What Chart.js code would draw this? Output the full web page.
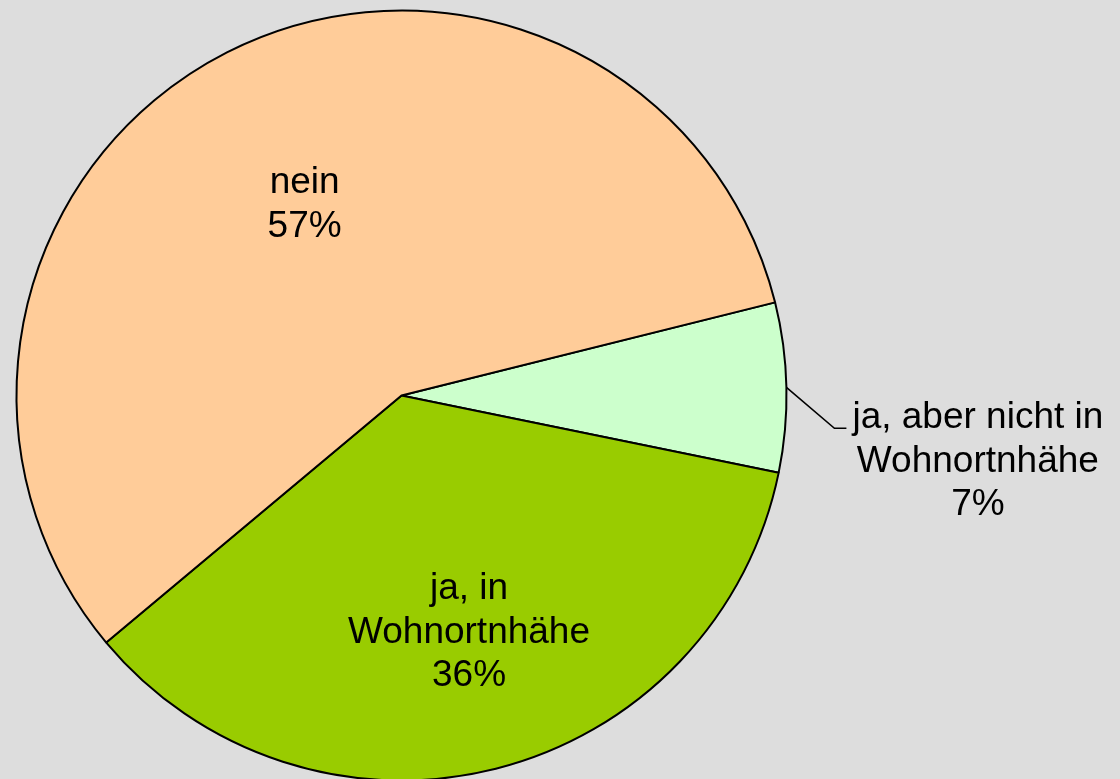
<!DOCTYPE html>
<html>
<head>
<meta charset="utf-8">
<script src="https://cdn.jsdelivr.net/npm/chart.js@4"></script>
<style>
  body { margin: 0; background: #dddddd; }
  #wrap { width: 1120px; height: 779px; position: relative; }
</style>
</head>
<body>
<div id="wrap"><canvas id="chart"></canvas></div>
<script>
// values (percent of answers)
let categories = [['ja, aber nicht in', 'Wohnortnhähe'], ['ja, in', 'Wohnortnhähe'], ['nein']];
let shares = [7.1, 35.7, 57.2];
let slice_colors = ['#ccffcc', '#99cc00', '#ffcc99'];

let label_plugin = {
  id: 'slice_labels',
  afterDatasetsDraw(chart) {
    let ctx = chart.ctx;
    let meta = chart.getDatasetMeta(0);
    let line_h = 43.5;
    ctx.save();
    ctx.font = '37px "Liberation Sans", Arial, sans-serif';
    ctx.fillStyle = '#000';
    meta.data.forEach((arc, i) => {
      let lines = categories[i].concat([Math.round(shares[i]) + '%']);
      let mid = (arc.startAngle + arc.endAngle) / 2;
      if (i == 0) {
        // outside label with leader line
        let ex = arc.x + Math.cos(mid) * arc.outerRadius;
        let ey = arc.y + Math.sin(mid) * arc.outerRadius;
        let bx = ex + 48, by = ey + 41;
        ctx.strokeStyle = '#000';
        ctx.lineWidth = 1.6;
        ctx.beginPath();
        ctx.moveTo(ex, ey);
        ctx.lineTo(bx, by);
        ctx.lineTo(bx + 12, by);
        ctx.stroke();
        let w = Math.max(...lines.map(l => ctx.measureText(l).width));
        let cx = bx + 18 + w / 2;
        ctx.textAlign = 'center';
        ctx.textBaseline = 'alphabetic';
        lines.forEach((l, j) => ctx.fillText(l, cx, by + j * line_h));
      } else {
        let frac = i == 1 ? 0.64 : 0.555;
        let ang = i == 1 ? mid - 0.03 : mid;
        let cx = arc.x + Math.cos(ang) * arc.outerRadius * frac;
        let cy = arc.y + Math.sin(ang) * arc.outerRadius * frac;
        ctx.textAlign = 'center';
        ctx.textBaseline = 'middle';
        let top = cy - (lines.length - 1) * line_h / 2;
        lines.forEach((l, j) => ctx.fillText(l, cx, top + j * line_h));
      }
    });
    ctx.restore();
  }
};

new Chart(document.getElementById('chart'), {
  type: 'pie',
  data: {
    labels: categories.map(c => c.join(' ')),
    datasets: [{
      data: shares,
      backgroundColor: slice_colors,
      borderColor: '#000',
      borderWidth: 2
    }]
  },
  options: {
    responsive: true,
    maintainAspectRatio: false,
    animation: false,
    rotation: 76,
    radius: 385,
    layout: { padding: { left: 16, right: 333, top: 12, bottom: 0 } },
    plugins: { legend: { display: false }, tooltip: { enabled: false } }
  },
  plugins: [label_plugin]
});
</script>
</body>
</html>
